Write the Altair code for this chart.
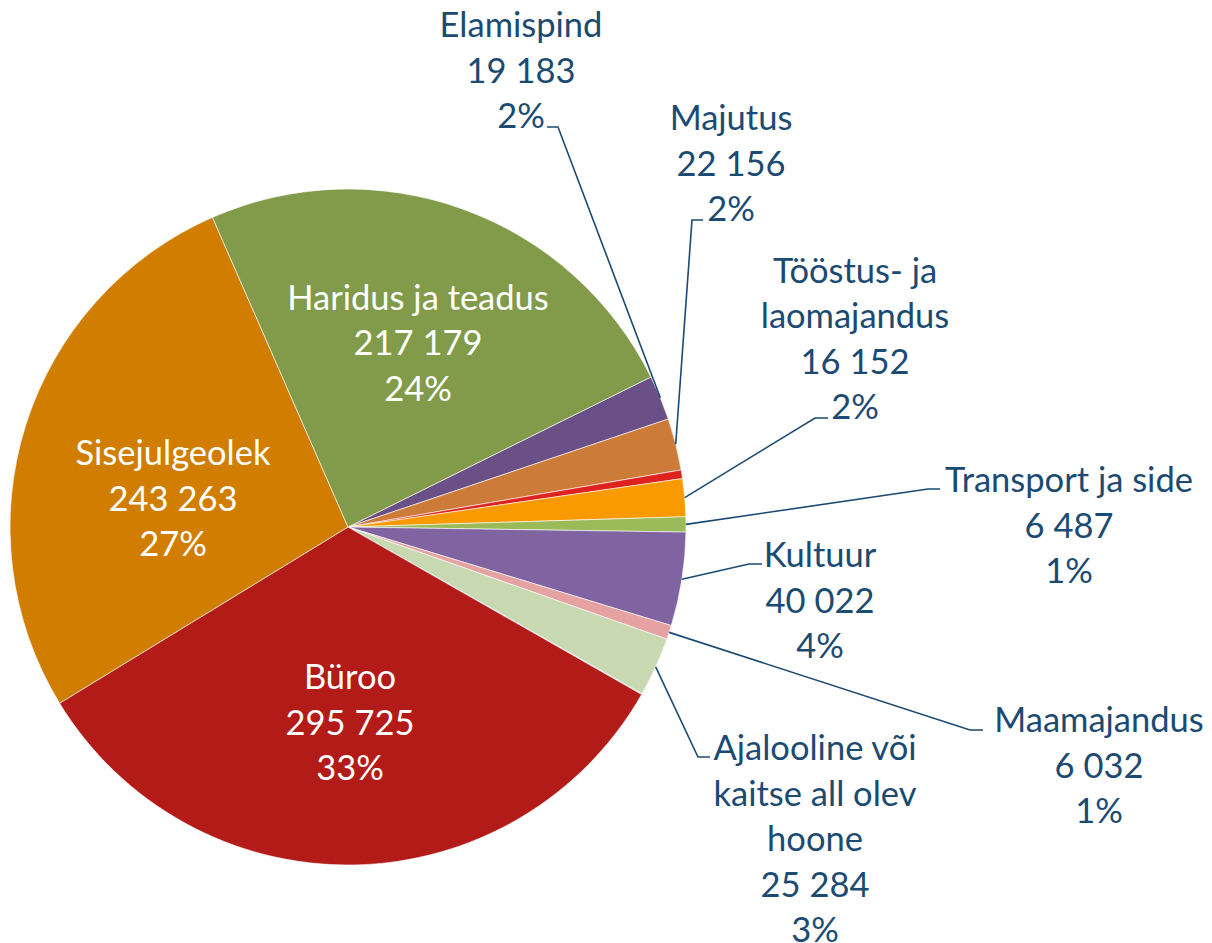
import math
import altair as alt
import pandas as pd

# ---- data (clockwise order) ----
categories = ["Elamispind", "Majutus", "Muu (a)", "Tööstus- ja laomajandus",
              "Transport ja side", "Kultuur", "Maamajandus",
              "Ajalooline või kaitse all olev hoone", "Muu (b)",
              "Büroo", "Sisejulgeolek", "Haridus ja teadus"]
values = [19183, 22156, 3700, 16152, 6487, 40022, 6032, 25284, 400,
          295725, 243263, 217179]
label_lines = [["Elamispind"], ["Majutus"], None, ["Tööstus- ja", "laomajandus"],
               ["Transport ja side"], ["Kultuur"], ["Maamajandus"],
               ["Ajalooline või", "kaitse all olev", "hoone"], None,
               ["Büroo"], ["Sisejulgeolek"], ["Haridus ja teadus"]]
colors = ["#6A5086", "#CC7B38", "#DE2220", "#F89A00", "#9BBB59", "#8064A2",
          "#E6A2A0", "#C8D8B0", "#B3A2C7", "#B31B18", "#D17E00", "#829B4A"]

# ---- layout (pixels) ----
CX, CY, R = 348, 527, 338
START_DEG = 63.66
TEXT_COLOR = "#1B4A72"
FONT = "Lato"
FS = 34.5
LH = 45.5
# first-line anchor of each label, inside (white) flag, leader-line label-side points
label_pos = {
    "Elamispind": (521, 27, False, [(547, 127), (558, 127)]),
    "Majutus": (731, 120, False, [(703, 220), (692, 220)]),
    "Tööstus- ja laomajandus": (855, 272.5, False, [(828, 418), (815, 418)]),
    "Transport ja side": (1069, 482, False, [(940, 489), (928, 489)]),
    "Kultuur": (820, 557, False, [(762, 564), (749, 564)]),
    "Maamajandus": (1099, 722, False, [(983, 730), (970, 730)]),
    "Ajalooline või kaitse all olev hoone": (815, 750, False, [(710, 757), (698, 757)]),
    "Büroo": (350, 679, True, None),
    "Sisejulgeolek": (173, 455, True, None),
    "Haridus ja teadus": (418, 299.5, True, None),
}

total = sum(values)
df = pd.DataFrame({"cat": categories, "value": values, "ord": range(len(values))})

start = math.radians(START_DEG)
pie = alt.Chart(df).mark_arc(outerRadius=R, stroke="white", strokeWidth=0.6).encode(
    theta=alt.Theta("value:Q", stack=True,
                    scale=alt.Scale(range=[start, start + 2 * math.pi])),
    color=alt.Color("cat:N", scale=alt.Scale(domain=categories, range=colors),
                    legend=None),
    order=alt.Order("ord:Q"),
    x=alt.value(CX),
    y=alt.value(CY),
)

# labels
rows = []
line_rows = []
cum = 0
for cat, v, lines in zip(categories, values, label_lines):
    mid = start + 2 * math.pi * (cum + v / 2) / total
    cum += v
    if lines is None:
        continue
    lx, ly, inside, pts = label_pos[cat]
    pct = round(100 * v / total)
    num = f"{v:,}".replace(",", " ")
    text = "\n".join(lines + [num, f"{pct}%"])
    rows.append({"cat": cat, "text": text, "lx": lx, "ly": ly,
                 "col": "white" if inside else TEXT_COLOR})
    if pts:
        ex = CX + R * math.sin(mid)
        ey = CY - R * math.cos(mid)
        seq = pts + [(ex, ey)]
        for i, (px, py) in enumerate(seq):
            line_rows.append({"cat": cat, "i": i, "px": px, "py": py})

ldf = pd.DataFrame(rows)
lines_df = pd.DataFrame(line_rows)

labels = alt.Chart(ldf).mark_text(
    font=FONT, fontSize=FS, lineBreak="\n", lineHeight=LH,
    align="center", baseline="middle"
).encode(
    x=alt.X("lx:Q", scale=None, axis=None),
    y=alt.Y("ly:Q", scale=None, axis=None),
    text="text:N",
    color=alt.Color("col:N", scale=None),
)

leaders = alt.Chart(lines_df).mark_line(color=TEXT_COLOR, strokeWidth=1.6).encode(
    x=alt.X("px:Q", scale=None, axis=None),
    y=alt.Y("py:Q", scale=None, axis=None),
    detail="cat:N",
    order="i:Q",
)

chart = alt.layer(pie, leaders, labels).properties(
    width=1212, height=943, padding=0,
    autosize=alt.AutoSizeParams(type="none"),
    background="white",
).configure_view(stroke=None)

chart.save("out.html", embed_options={"renderer": "svg", "actions": False})
